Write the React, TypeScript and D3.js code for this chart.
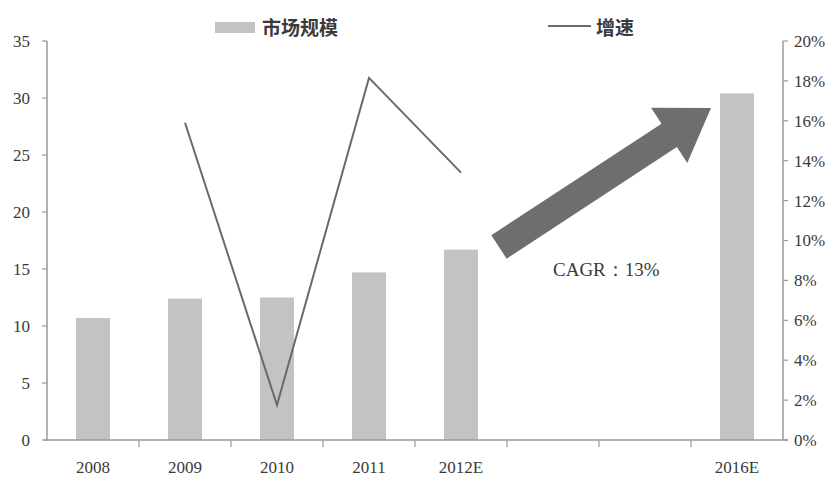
import React from "react";
import * as d3 from "d3";

const categories = ["2008", "2009", "2010", "2011", "2012E", "2013", "2014", "2016E"];
const tickLabels = ["2008", "2009", "2010", "2011", "2012E", "", "", "2016E"];
const marketSize: (number | null)[] = [10.7, 12.4, 12.5, 14.7, 16.7, null, null, 30.4];
const growth: (number | null)[] = [null, 15.9, 1.75, 18.15, 13.4, null, null, null];
const leftTicks = [0, 5, 10, 15, 20, 25, 30, 35];
const rightTicks = [0, 0.02, 0.04, 0.06, 0.08, 0.1, 0.12, 0.14, 0.16, 0.18, 0.2];
const legendBar = "市场规模";
const legendLine = "增速";
const cagrText = "CAGR：13%";

const W = 834;
const H = 480;
const left = 47;
const right = 783;
const top = 41;
const bottom = 440;

export default function App() {
  const x = d3.scaleBand<string>().domain(categories).range([left, right]).paddingInner(0).paddingOuter(0);
  const yL = d3.scaleLinear().domain([0, 35]).range([bottom, top]);
  const yR = d3.scaleLinear().domain([0, 0.2]).range([bottom, top]);
  const bw = x.bandwidth() * 0.37;
  const cx = (c: string) => (x(c) as number) + x.bandwidth() / 2;

  const linePts = categories
    .map((c, i) => ({ c, v: growth[i] }))
    .filter((d) => d.v !== null) as { c: string; v: number }[];
  const line = d3
    .line<{ c: string; v: number }>()
    .x((d) => cx(d.c))
    .y((d) => yR(d.v / 100));

  // arrow geometry
  const tail = [499, 247];
  const tip = [711, 108];
  const dx = tip[0] - tail[0];
  const dy = tip[1] - tail[1];
  const L = Math.hypot(dx, dy);
  const ang = (Math.atan2(dy, dx) * 180) / Math.PI;
  const sw = 14;
  const hw = 33;
  const hl = 50;
  const arrowPts = [
    [0, -sw],
    [L - hl, -sw],
    [L - hl, -hw],
    [L, 0],
    [L - hl, hw],
    [L - hl, sw],
    [0, sw],
  ]
    .map((p) => p.join(","))
    .join(" ");

  const font = "'Liberation Serif', 'DejaVu Serif', serif";
  const axisColor = "#9a9a9a";
  const textColor = "#3a3a3a";

  return (
    <svg width={W} height={H} style={{ display: "block", position: "absolute", left: 0, top: 0 }}>
      <rect width={W} height={H} fill="#fff" />
      {/* bars */}
      {categories.map((c, i) =>
        marketSize[i] === null ? null : (
          <rect
            key={c}
            x={cx(c) - bw / 2}
            y={yL(marketSize[i] as number)}
            width={bw}
            height={bottom - yL(marketSize[i] as number)}
            fill="#c3c3c3"
          />
        )
      )}
      {/* line */}
      <path d={line(linePts) || ""} fill="none" stroke="#6a6a6a" strokeWidth={2} />
      {/* arrow */}
      <polygon points={arrowPts} fill="#6e6e6e" transform={`translate(${tail[0]},${tail[1]}) rotate(${ang})`} />
      <text x={553} y={276} fontFamily={font} fontSize={19} fill={textColor}>
        {cagrText}
      </text>
      {/* left axis */}
      <line x1={left} x2={left} y1={top} y2={bottom} stroke={axisColor} strokeWidth={1.5} />
      {leftTicks.map((t) => (
        <g key={t}>
          <line x1={left - 5} x2={left} y1={yL(t)} y2={yL(t)} stroke={axisColor} strokeWidth={1.2} />
          <text x={30} y={yL(t)} dy="0.35em" textAnchor="end" fontFamily={font} fontSize={17} fill={textColor}>
            {t}
          </text>
        </g>
      ))}
      {/* right axis */}
      <line x1={right} x2={right} y1={top} y2={bottom} stroke={axisColor} strokeWidth={1.5} />
      {rightTicks.map((t) => (
        <g key={t}>
          <line x1={right} x2={right + 5} y1={yR(t)} y2={yR(t)} stroke={axisColor} strokeWidth={1.2} />
          <text x={794} y={yR(t)} dy="0.35em" textAnchor="start" fontFamily={font} fontSize={17} fill={textColor}>
            {d3.format(".0%")(t)}
          </text>
        </g>
      ))}
      {/* x axis */}
      <line x1={44} x2={right + 5} y1={bottom} y2={bottom} stroke={axisColor} strokeWidth={1.5} />
      {categories.map((c, i) => (
        <g key={c}>
          {i > 0 && (
            <line
              x1={x(c) as number}
              x2={x(c) as number}
              y1={bottom}
              y2={bottom + 7}
              stroke={axisColor}
              strokeWidth={1.2}
            />
          )}
          <text x={cx(c)} y={467} dy="0.35em" textAnchor="middle" fontFamily={font} fontSize={17} fill={textColor}>
            {tickLabels[i]}
          </text>
        </g>
      ))}
      {/* legend */}
      <rect x={215} y={22} width={40} height={11} fill="#c3c3c3" />
      <text x={262} y={28} dy="0.35em" fontFamily="'Noto Sans CJK SC', sans-serif" fontSize={19} fontWeight={700} fill={textColor}>
        {legendBar}
      </text>
      <line x1={548} x2={591} y1={26} y2={26} stroke="#6a6a6a" strokeWidth={2} />
      <text x={596} y={28} dy="0.35em" fontFamily="'Noto Sans CJK SC', sans-serif" fontSize={19} fontWeight={700} fill={textColor}>
        {legendLine}
      </text>
    </svg>
  );
}
